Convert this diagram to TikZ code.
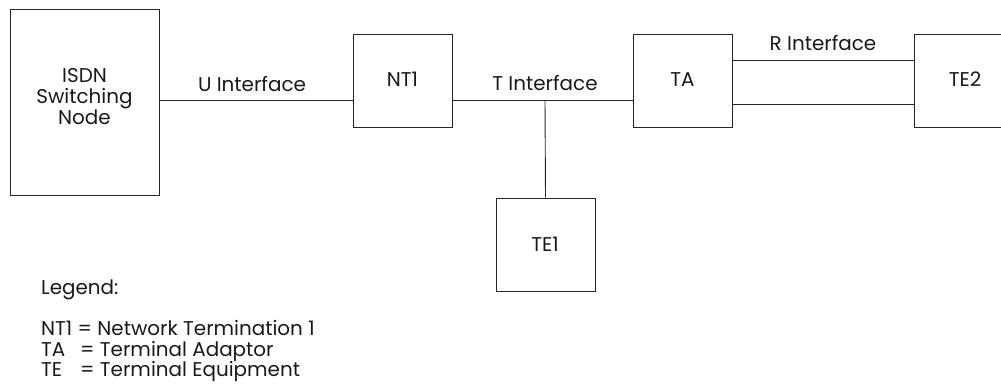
\documentclass[tikz,border=0pt]{standalone}
\usepackage{fontspec}
\setmainfont{Poppins}
\begin{document}
\begin{tikzpicture}[x=1bp,y=-1bp,
  box/.style={draw=black!85, line width=0.9bp, inner sep=0pt, fill=white},
  conn/.style={draw=black!85, line width=0.9bp},
  lbl/.style={inner sep=0pt, anchor=base, font=\fontsize{20}{24}\selectfont, text=black!90},
  leg/.style={inner sep=0pt, anchor=base west, font=\fontsize{20}{24}\selectfont, text=black!90}]
\useasboundingbox (0,0) rectangle (1001,383);
% boxes
\node[box, minimum width=149bp, minimum height=186bp] (isdn) at (84.5,102) {};
\node[box, minimum width=99bp, minimum height=93bp] (nt1) at (402.5,80.5) {};
\node[box, minimum width=99bp, minimum height=93bp] (ta) at (682.5,80.5) {};
\node[box, minimum width=99bp, minimum height=93bp] (te2) at (963.5,80.5) {};
\node[box, minimum width=99bp, minimum height=93bp] (te1) at (545.5,244.5) {};
% box texts
\node[lbl] (isdnA) at (84.5,82) {ISDN};
\node[lbl] (isdnB) at (84.5,103) {Switching};
\node[lbl] (isdnC) at (84.5,124) {Node};
\node[lbl] (nt1t) at (402.5,86) {NT1};
\node[lbl] (tat) at (682.5,86) {TA};
\node[lbl] (te2t) at (965,86) {TE2};
\node[lbl] (te1t) at (545,251) {TE1};
% connectors
\coordinate (tj) at (545,100);
\draw[conn] (isdn.east |- 0,100) -- (nt1.west |- 0,100);
\draw[conn] (nt1.east |- 0,100) -- (ta.west |- 0,100);
\draw[conn] (tj) -- (te1.north);
\draw[conn] (ta.east |- 0,60.5) -- (te2.west |- 0,60.5);
\draw[conn] (ta.east |- 0,104) -- (te2.west |- 0,104);
% interface labels
\node[lbl] (uif) at (252,91) {U Interface};
\node[lbl] (tif) at (545,90) {T Interface};
\node[lbl] (rif) at (823,50) {R Interface};
% legend
\node[leg] (lg) at (41,294) {Legend:};
\node[leg] (l1) at (41,335) {NT1 = Network Termination 1};
\node[leg] (l2) at (41,356) {TA};
\node[leg] (l2b) at (80,356) {= Terminal Adaptor};
\node[leg] (l3) at (41,376.5) {TE};
\node[leg] (l3b) at (80,376.5) {= Terminal Equipment};
\end{tikzpicture}
\end{document}
